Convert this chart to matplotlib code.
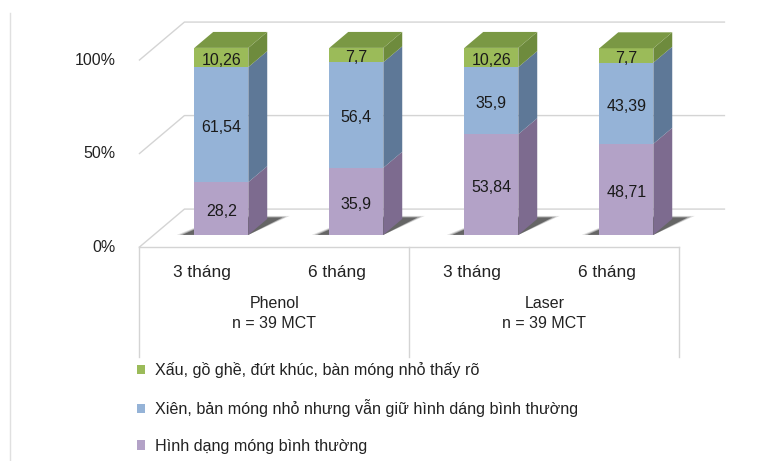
import matplotlib.pyplot as plt
from matplotlib.patches import Polygon, Patch
from matplotlib.lines import Line2D

plt.rcParams['font.family'] = ['Liberation Sans', 'DejaVu Sans']

# data
months = ["3 tháng", "6 tháng", "3 tháng", "6 tháng"]
groups = ["Phenol\nn = 39 MCT", "Laser\nn = 39 MCT"]
normal = [28.2, 35.9, 53.84, 48.71]      # Hình dạng móng bình thường
oblique = [61.54, 56.4, 35.9, 43.39]     # Xiên, bản móng nhỏ ...
rough = [10.26, 7.7, 10.26, 7.7]         # Xấu, gồ ghề, ...
series_names = ["Hình dạng móng bình thường",
                "Xiên, bản móng nhỏ nhưng vẫn giữ hình dáng bình thường",
                "Xấu, gồ ghề, đứt khúc, bàn móng nhỏ thấy rõ"]
yticks = [0, 50, 100]

# colours: (front, side, top)
colors = [("#B3A2C7", "#7D6B8F", "#9A88AF"),
          ("#95B3D7", "#5E7897", "#7E9CC0"),
          ("#9BBB59", "#6E8B3D", "#7A9844")]

# fake 3d: depth offset for d in [0, 1]
DX, DY = 0.333, 20.3
D0, D1 = 0.32, 0.74
W = 0.4


def P(x, y, d):
    return (x + d * DX, y + d * DY)


fig = plt.figure(figsize=(7.76, 4.61), dpi=100)
ax = fig.add_axes([0, 0, 1, 1])
ax.set_xlim(-1.533, 4.215)
ax.set_ylim(-114.4, 132.1)
ax.axis("off")

grid_c = "#D4D4D4"
text_c = "#222222"
x0, x1 = -0.5, len(months) - 0.5

# walls and gridlines
for t in yticks:
    ax.plot(*zip(P(x0, t, 0), P(x0, t, 1), P(x1, t, 1)), color=grid_c, lw=1, zorder=1)
    ax.text(x0 - 0.175, t, f"{t}%", ha="right", va="center", fontsize=11.5, color=text_c)
ax.plot([x0, x1], [0, 0], color=grid_c, lw=1, zorder=1)

# category table under the floor
for xv in [x0, 1.5, x1]:
    ax.plot([xv, xv], [0, -59], color=grid_c, lw=1, zorder=1)
for i, m in enumerate(months):
    ax.text(i - 0.035, -13.5, m, ha="center", va="center", fontsize=12.4, color=text_c)
for g, lab in enumerate(groups):
    ax.text(2 * g + 0.5, -35.5, lab, ha="center", va="center", fontsize=11.5,
            color=text_c, linespacing=1.45)

series = [normal, oblique, rough]
for i in range(len(months)):
    xl, xr = i - W / 2, i + W / 2
    # soft floor shadow, darker towards the bar
    for grow, a in [(0.04, 0.15), (0.02, 0.3), (0.0, 0.55)]:
        shadow = [P(xl - 0.09 - grow, 0, D0), P(xr, 0, D0),
                  P(xr + 0.1 + grow, 0, D1 + 0.04 + grow), P(xl + 0.05, 0, D1 + 0.04 + grow)]
        ax.add_patch(Polygon(shadow, closed=True, fc="#2E2E2E", ec="none", alpha=a, zorder=2))
    bottom = 0
    for s, vals in enumerate(series):
        v = vals[i]
        top = bottom + v
        front_c, side_c, top_c = colors[s]
        front = [P(xl, bottom, D0), P(xr, bottom, D0), P(xr, top, D0), P(xl, top, D0)]
        side = [P(xr, bottom, D0), P(xr, bottom, D1), P(xr, top, D1), P(xr, top, D0)]
        ax.add_patch(Polygon(front, closed=True, fc=front_c, ec="none", zorder=3))
        ax.add_patch(Polygon(side, closed=True, fc=side_c, ec="none", zorder=3))
        cx, cy = P(i, bottom + v / 2, D0)
        ax.text(cx, cy - 1.5, f"{v:g}".replace(".", ","), ha="center", va="center",
                fontsize=11.5, color="#1A1A1A", zorder=5)
        bottom = top
    lid = [P(xl, bottom, D0), P(xr, bottom, D0), P(xr, bottom, D1), P(xl, bottom, D1)]
    ax.add_patch(Polygon(lid, closed=True, fc=colors[-1][2], ec="none", zorder=4))

# legend, top entry first
handles = [Patch(fc=colors[s][0], ec="none", label=series_names[s]) for s in (2, 1, 0)]
fig.legend(handles=handles, loc="upper left", bbox_to_anchor=(137 / 776, 1 - 362 / 461),
           frameon=False, fontsize=11.6, handlelength=0.52, handleheight=0.52,
           handletextpad=0.62, labelspacing=1.33, borderpad=0, borderaxespad=0,
           labelcolor=text_c)

# left border of the chart area
fig.add_artist(Line2D([10 / 776, 10 / 776], [0, 1 - 13 / 461], color="#E0E0E0", lw=1))

fig.savefig("out.png", dpi=100)
